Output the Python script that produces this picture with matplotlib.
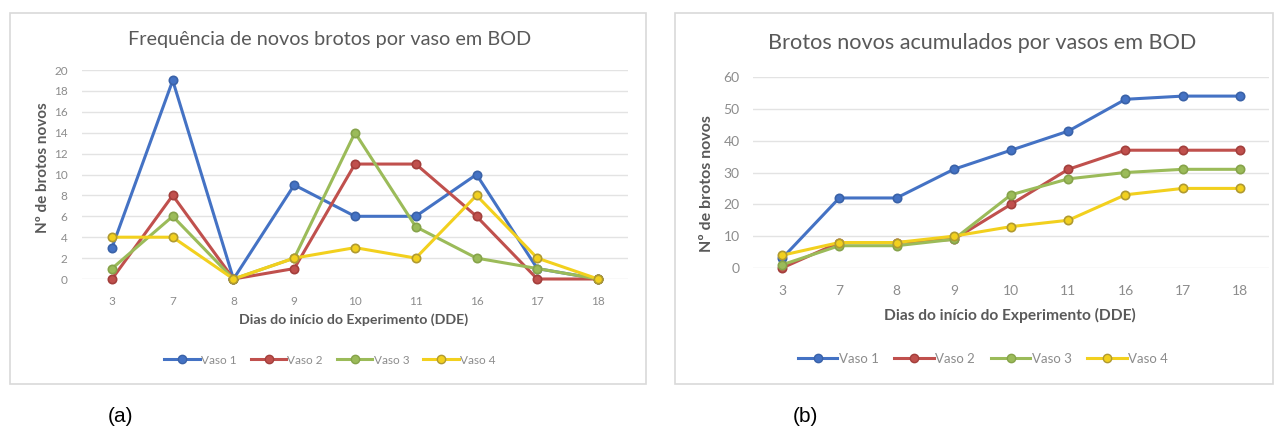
import matplotlib
matplotlib.use("Agg")
import matplotlib.pyplot as plt
from matplotlib.patches import Rectangle
from matplotlib.lines import Line2D

days = ["3", "7", "8", "9", "10", "11", "16", "17", "18"]
series_names = ["Vaso 1", "Vaso 2", "Vaso 3", "Vaso 4"]

freq_v1 = [3, 19, 0, 9, 6, 6, 10, 1, 0]
freq_v2 = [0, 8, 0, 1, 11, 11, 6, 0, 0]
freq_v3 = [1, 6, 0, 2, 14, 5, 2, 1, 0]
freq_v4 = [4, 4, 0, 2, 3, 2, 8, 2, 0]

acum_v1 = [3, 22, 22, 31, 37, 43, 53, 54, 54]
acum_v2 = [0, 8, 8, 9, 20, 31, 37, 37, 37]
acum_v3 = [1, 7, 7, 9, 23, 28, 30, 31, 31]
acum_v4 = [4, 8, 8, 10, 13, 15, 23, 25, 25]

colors = ["#4472C4", "#C0504D", "#9BBB59", "#F2D01E"]
edges = ["#3A62A8", "#A33F3C", "#86A34A", "#B09A30"]

W, H = 1274, 430
fig = plt.figure(figsize=(W / 100, H / 100), dpi=100)
FONT = ["Lato", "DejaVu Sans"]
plt.rcParams['font.family'] = FONT


def px_axes(left, right, top, bottom):
    ax = fig.add_axes([left / W, 1 - bottom / H, (right - left) / W, (bottom - top) / H])
    ax.set_zorder(2)
    return ax


def frame(x0, y0, x1, y1):
    fig.patches.append(Rectangle((x0 / W, 1 - y1 / H), (x1 - x0) / W, (y1 - y0) / H,
                                 transform=fig.transFigure, facecolor="none",
                                 edgecolor="#D9D9D9", lw=1.2, zorder=-5))


def draw(ax, data, ymax, ystep, fs):
    x = list(range(len(days)))
    for vals, c, e, n in zip(data, colors, edges, series_names):
        ax.plot(x, vals, color=c, lw=2.2, marker="o", ms=6, mfc=c, mec=e, mew=1.2,
                label=n, clip_on=False, zorder=3)
    ax.set_xlim(-0.5, len(days) - 0.5)
    ax.set_ylim(0, ymax)
    ax.set_xticks(x)
    ax.set_xticklabels(days)
    ax.set_yticks(range(0, ymax + 1, ystep))
    ax.grid(axis="y", color="#E3E3E3", lw=1)
    ax.set_axisbelow(True)
    for s in ax.spines.values():
        s.set_visible(False)
    ax.tick_params(length=0, colors="#8C8C8C", labelsize=fs)
    ax.tick_params(axis="x", pad=12)
    ax.tick_params(axis="y", pad=10)
    ax.patch.set_visible(False)


frame(10, 13, 646, 384)
frame(675, 13, 1273, 384)

ax1 = px_axes(81.6, 628.4, 70, 279)
draw(ax1, [freq_v1, freq_v2, freq_v3, freq_v4], 20, 2, 8.5)
ax2 = px_axes(753.4, 1268.6, 77, 268)
draw(ax2, [acum_v1, acum_v2, acum_v3, acum_v4], 60, 10, 10)

fig.text(330 / W, 1 - 40 / H, "Frequência de novos brotos por vaso em BOD",
         ha="center", va="center", fontsize=14.3, color="#595959")
fig.text(982 / W, 1 - 43 / H, "Brotos novos acumulados por vasos em BOD",
         ha="center", va="center", fontsize=15.6, color="#595959")

fig.text(354 / W, 1 - 320 / H, "Dias do início do Experimento (DDE)",
         ha="center", va="center", fontsize=10.2, color="#595959", fontweight="bold")
fig.text(1010 / W, 1 - 315 / H, "Dias do início do Experimento (DDE)",
         ha="center", va="center", fontsize=11.2, color="#595959", fontweight="bold")

fig.text(43 / W, 1 - 168 / H, "Nº de brotos novos", rotation=90,
         ha="center", va="center", fontsize=11, color="#595959", fontweight="bold")
fig.text(707 / W, 1 - 184 / H, "Nº de brotos novos", rotation=90,
         ha="center", va="center", fontsize=11.5, color="#595959", fontweight="bold")

for cx, cy, fs in [(330, 360, 8.5), (983, 359, 9.5)]:
    handles = [Line2D([0], [0], color=c, lw=2.2, marker="o", ms=6, mfc=c, mec=e)
               for c, e in zip(colors, edges)]
    leg = fig.legend(handles, series_names, loc="center",
                     bbox_to_anchor=(cx / W, 1 - cy / H), ncol=4, frameon=False,
                     fontsize=fs, handlelength=3, handletextpad=0.1, columnspacing=1.2)
    for t in leg.get_texts():
        t.set_color("#8C8C8C")

fig.text(120 / W, 1 - 417 / H, "(a)", ha="center", va="center", fontsize=15,
         family=["Liberation Sans", "DejaVu Sans"], color="black")
fig.text(805 / W, 1 - 417 / H, "(b)", ha="center", va="center", fontsize=15,
         family=["Liberation Sans", "DejaVu Sans"], color="black")

fig.savefig("out.png", dpi=100)
